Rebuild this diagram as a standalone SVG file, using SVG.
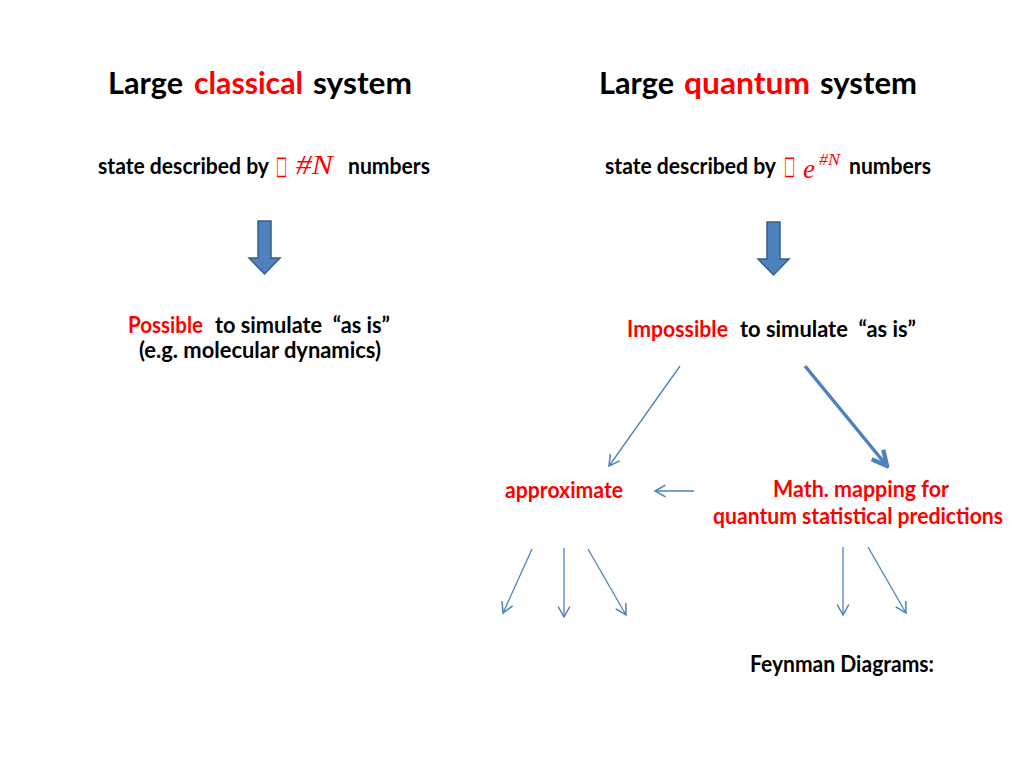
<svg xmlns="http://www.w3.org/2000/svg" width="1024" height="768" viewBox="0 0 1024 768">
<defs>
<style>
.t{font-family:Lato,"Open Sans","Liberation Sans",sans-serif;font-weight:bold;fill:#000;white-space:pre}
.r{fill:#ff0000}
.h{font-size:30px}
.b{font-size:23px}
.m{font-family:"Liberation Serif","Times New Roman",serif;font-style:italic;fill:#ff0000}
.tofu{font-family:"DejaVu Sans",sans-serif;font-style:normal;fill:#ff0000;font-size:26px}
.ln{stroke:#4f81bd;stroke-width:1.3;fill:none;marker-end:url(#ah)}
.lnk{stroke:#4f81bd;stroke-width:3.5;fill:none;marker-end:url(#ahk)}
.big{fill:#4f81bd;stroke:#385d8a;stroke-width:1.5}
</style>
<marker id="ah" markerUnits="userSpaceOnUse" markerWidth="14" markerHeight="14" refX="10" refY="6" orient="auto" viewBox="0 0 12 12">
<path d="M1,1 L10,6 L1,11" fill="none" stroke="#4f81bd" stroke-width="1.3"/>
</marker>
<marker id="ahk" markerUnits="userSpaceOnUse" markerWidth="20" markerHeight="20" refX="14" refY="8" orient="auto" viewBox="0 0 16 16">
<path d="M2,2 L14,8 L2,14" fill="none" stroke="#4f81bd" stroke-width="3.5" stroke-linejoin="miter"/>
</marker>
</defs>
<rect width="1024" height="768" fill="#ffffff"/>

<g id="title-classical">
<text class="t h" x="108" y="94" textLength="75" lengthAdjust="spacingAndGlyphs">Large</text>
<text class="t h r" x="194" y="94" textLength="109" lengthAdjust="spacingAndGlyphs">classical</text>
<text class="t h" x="313" y="94" textLength="99" lengthAdjust="spacingAndGlyphs">system</text>
</g>

<g id="title-quantum">
<text class="t h" x="599" y="94" textLength="75" lengthAdjust="spacingAndGlyphs">Large</text>
<text class="t h r" x="684" y="94" textLength="126" lengthAdjust="spacingAndGlyphs">quantum</text>
<text class="t h" x="820" y="94" textLength="97" lengthAdjust="spacingAndGlyphs">system</text>
</g>

<g id="state-classical">
<text class="t b" x="98" y="174" textLength="171" lengthAdjust="spacingAndGlyphs">state described by</text>
<text class="m" y="174" font-size="27"><tspan class="tofu" x="276" textLength="11" lengthAdjust="spacingAndGlyphs">□</tspan><tspan x="296" textLength="37" lengthAdjust="spacingAndGlyphs">#N</tspan></text>
<text class="t b" x="348" y="174" textLength="82" lengthAdjust="spacingAndGlyphs">numbers</text>
</g>

<g id="state-quantum">
<text class="t b" x="605" y="174" textLength="171" lengthAdjust="spacingAndGlyphs">state described by</text>
<text class="m" y="178" font-size="27"><tspan class="tofu" x="784" dy="-4" textLength="11" lengthAdjust="spacingAndGlyphs">□</tspan><tspan x="803" dy="4">e</tspan><tspan x="819" dy="-13" font-size="17" textLength="21" lengthAdjust="spacingAndGlyphs">#N</tspan></text>
<text class="t b" x="849" y="174" textLength="82" lengthAdjust="spacingAndGlyphs">numbers</text>
</g>

<g id="bigarrow-left">
<path class="big" d="M258,221 H271 V258 H280 L264.5,274 L249,258 H258 Z"/>
</g>
<g id="bigarrow-right">
<path class="big" d="M767,222 H780 V259 H789 L773.5,275 L758,259 H767 Z"/>
</g>

<g id="possible">
<text class="t b r" x="128" y="333" textLength="75" lengthAdjust="spacingAndGlyphs">Possible</text>
<text class="t b" x="215" y="333" textLength="175" lengthAdjust="spacingAndGlyphs">to simulate  “as is”</text>
<text class="t b" x="139" y="358" textLength="242" lengthAdjust="spacingAndGlyphs">(e.g. molecular dynamics)</text>
</g>

<g id="impossible">
<text class="t b r" x="627" y="337" textLength="101" lengthAdjust="spacingAndGlyphs">Impossible</text>
<text class="t b" x="740" y="337" textLength="176" lengthAdjust="spacingAndGlyphs">to simulate  “as is”</text>
</g>

<g id="approximate">
<text class="t b r" x="505" y="498" textLength="118" lengthAdjust="spacingAndGlyphs">approximate</text>
</g>

<g id="math-mapping">
<text class="t b r" x="773" y="497" textLength="176" lengthAdjust="spacingAndGlyphs">Math. mapping for</text>
<text class="t r" x="713" y="524" font-size="22.5" textLength="290" lengthAdjust="spacingAndGlyphs">quantum statistical predictions</text>
</g>

<g id="feynman">
<text class="t b" x="750" y="672" textLength="184" lengthAdjust="spacingAndGlyphs">Feynman Diagrams:</text>
</g>

<g id="connectors">
<line class="ln" x1="680" y1="366" x2="609" y2="466"/>
<line class="lnk" x1="805" y1="366" x2="887" y2="466"/>
<line class="ln" x1="694" y1="491" x2="655" y2="491"/>
<line class="ln" x1="532" y1="549" x2="503" y2="613"/>
<line class="ln" x1="564" y1="548" x2="564" y2="617"/>
<line class="ln" x1="588" y1="549" x2="626" y2="615"/>
<line class="ln" x1="843" y1="547" x2="843" y2="615"/>
<line class="ln" x1="868" y1="547" x2="906" y2="613"/>
</g>
</svg>
